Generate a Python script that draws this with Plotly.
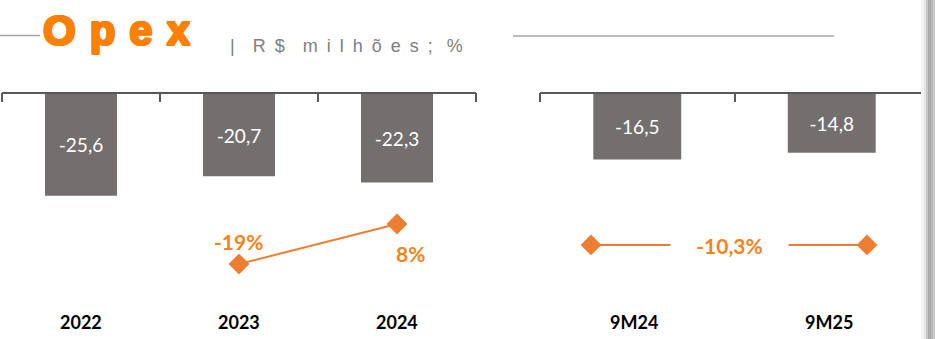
import plotly.graph_objects as go

# ---- data ----
years = ["2022", "2023", "2024"]
opex_years = [-25.6, -20.7, -22.3]
growth_years_cats = ["2023", "2024"]
growth_years = [-19, 8]
growth_years_labels = ["-19%", "8%"]

periods = ["9M24", "9M25"]
opex_periods = [-16.5, -14.8]
growth_period = -10.3
growth_period_label = "-10,3%"

title_main = "O\u2004p\u2004e\u2004x"
title_sub = "|\u2002\u2002R\u2002$\u2002\u2002m\u2002i\u2002l\u2002h\u2002õ\u2002e\u2002s\u2002;\u2002 %"

# ---- style ----
W, H = 935, 339
BAR = "#736F6E"
LINE = "#ED7D31"
PCT = "#F7821B"
TITLE = "#FF8000"
AXIS = "#595959"
FONT = "Lato"

def px(x):
    return x / W

def py(y):
    return 1 - y / H

def fmt(v):
    return f"{v:.1f}".replace(".", ",")

bar_dom = [0, py(94)]

fig = go.Figure()

fig.add_trace(go.Bar(
    x=years, y=opex_years, xaxis="x", yaxis="y",
    marker=dict(color=BAR, line=dict(width=0)), width=0.456,
    text=[fmt(v) for v in opex_years], textposition="inside",
    insidetextanchor="middle", textangle=0,
    textfont=dict(color="white", size=19, family=FONT),
    hoverinfo="skip", showlegend=False,
))
fig.add_trace(go.Scatter(
    x=growth_years_cats, y=growth_years, xaxis="x", yaxis="y2",
    mode="lines+markers", line=dict(color=LINE, width=2),
    marker=dict(symbol="diamond", size=16, color=LINE), cliponaxis=False,
    hoverinfo="skip", showlegend=False,
))
fig.add_trace(go.Bar(
    x=periods, y=opex_periods, xaxis="x2", yaxis="y3",
    marker=dict(color=BAR, line=dict(width=0)), width=0.452,
    text=[fmt(v) for v in opex_periods], textposition="inside",
    insidetextanchor="middle", textangle=0,
    textfont=dict(color="white", size=19, family=FONT),
    hoverinfo="skip", showlegend=False,
))
fig.add_trace(go.Scatter(
    x=periods, y=[growth_period, growth_period], xaxis="x3", yaxis="y4",
    mode="lines+markers", line=dict(color=LINE, width=2),
    marker=dict(symbol="diamond", size=16, color=LINE), cliponaxis=False,
    hoverinfo="skip", showlegend=False,
))

axis_common = dict(showgrid=False, zeroline=False, fixedrange=True)

fig.update_layout(
    width=W, height=H,
    margin=dict(l=0, r=0, t=0, b=0),
    paper_bgcolor="white", plot_bgcolor="rgba(0,0,0,0)",
    barmode="overlay",
    xaxis=dict(domain=[px(2), px(476)], range=[-0.5, 2.5], type="category",
               side="top", anchor="y", showline=True, linecolor=AXIS, linewidth=2,
               ticks="inside", tickson="boundaries", ticklen=8, tickwidth=2,
               tickcolor=AXIS, showticklabels=False, **axis_common),
    yaxis=dict(domain=bar_dom, range=[-61.7, 0], anchor="x", visible=False, **axis_common),
    yaxis2=dict(overlaying="y", range=[-69.6, 95.75], anchor="x", visible=False, **axis_common),
    xaxis2=dict(domain=[px(540), px(929)], range=[-0.5, 1.5], type="category",
                side="top", anchor="y3", showline=True, linecolor=AXIS, linewidth=2,
                ticks="inside", tickson="boundaries", ticklen=8, tickwidth=2,
                tickcolor=AXIS, showticklabels=False, **axis_common),
    yaxis3=dict(domain=bar_dom, range=[-61.7, 0], anchor="x2", visible=False, **axis_common),
    xaxis3=dict(domain=[px(591), px(867)], range=[0, 1], type="category",
                anchor="y4", visible=False, **axis_common),
    yaxis4=dict(domain=bar_dom, range=[-73.8, 91.6], anchor="x3", visible=False, **axis_common),
)

ann = []
# category labels
for i, c in enumerate(years):
    ann.append(dict(x=i, xref="x", y=py(322), yref="paper", text=f"<b>{c}</b>",
                    showarrow=False, font=dict(family=FONT, size=18, color="black"),
                    yanchor="middle"))
for i, c in enumerate(periods):
    ann.append(dict(x=i, xref="x2", y=py(322), yref="paper", text=f"<b>{c}</b>",
                    showarrow=False, font=dict(family=FONT, size=18, color="black"),
                    yanchor="middle", xshift=-3))
# growth labels
shifts = [(-1, 23), (13, -29)]
for c, v, t, (dx, dy) in zip(growth_years_cats, growth_years, growth_years_labels, shifts):
    ann.append(dict(x=years.index(c), xref="x", y=v, yref="y2", text=f"<b>{t}</b>",
                    showarrow=False, font=dict(family=FONT, size=21, color=PCT),
                    xshift=dx, yshift=dy, yanchor="middle"))
ann.append(dict(x=0.5, xref="x3 domain", y=growth_period, yref="y4",
                text=f"<b>{growth_period_label}</b>", showarrow=False,
                font=dict(family=FONT, size=21, color=PCT), bgcolor="white",
                width=115, height=26, yanchor="middle"))
# title
thick = ", ".join(f"{dx}px {dy}px 0 {TITLE}" for dx, dy in
                  [(1, 0), (-1, 0), (0, 1), (0, -1), (1, 1), (-1, -1), (1, -1), (-1, 1)])
ann.append(dict(x=px(41), y=py(30), xref="paper", yref="paper", text=f"<b>{title_main}</b>",
                showarrow=False, xanchor="left", yanchor="middle",
                font=dict(family="Liberation Sans", size=42, color=TITLE, shadow=thick)))
ann.append(dict(x=px(228), y=py(46), xref="paper", yref="paper", text=title_sub,
                showarrow=False, xanchor="left", yanchor="middle",
                font=dict(family="Liberation Sans", size=18, color="#808080")))
fig.update_layout(annotations=ann)

shapes = [
    dict(type="line", xref="paper", yref="paper", x0=0, x1=px(40), y0=py(35.5), y1=py(35.5),
         line=dict(color="#A6A6A6", width=1.5)),
    dict(type="line", xref="paper", yref="paper", x0=px(513), x1=px(834), y0=py(36), y1=py(36),
         line=dict(color="#A6A6A6", width=1.5)),
]
# end ticks of the two category axes
for xr in ["x domain", "x2 domain"]:
    for xe in [0, 1]:
        shapes.append(dict(type="line", xref=xr, yref="paper", x0=xe, x1=xe,
                           y0=py(93), y1=py(102), line=dict(color=AXIS, width=2)))
# right-edge shadow
for x0, x1, col in [(921, 924, "#F4F4F4"), (924, 926, "#E2E2E2"), (926, 928, "#C8C8C8"),
                    (928, 931, "#A9A9A9"), (931, 933, "#B8B8B8"), (933, 935, "#CACACA")]:
    shapes.append(dict(type="rect", xref="paper", yref="paper", x0=px(x0), x1=px(x1),
                       y0=0, y1=1, fillcolor=col, line=dict(width=0), layer="above"))
fig.update_layout(shapes=shapes)

fig.write_html("out.html", config={"displayModeBar": False},
               post_script="document.body.style.margin='0';")
